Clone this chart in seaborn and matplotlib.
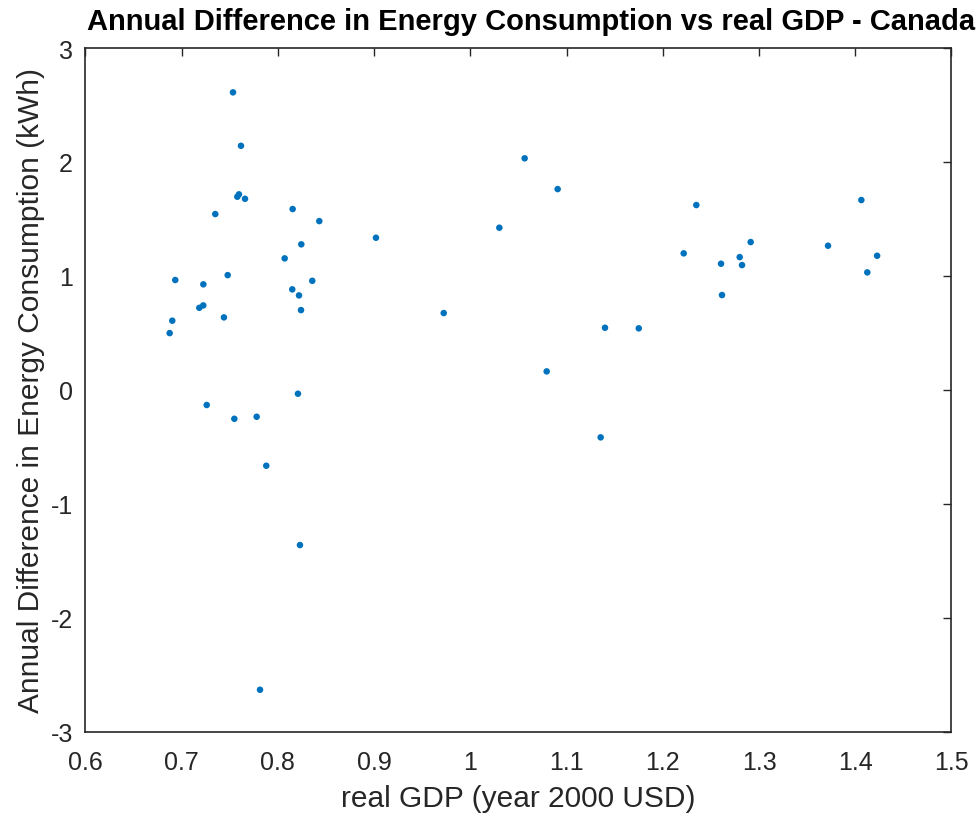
import matplotlib
matplotlib.use('Agg')
import matplotlib.pyplot as plt
import pandas as pd
import seaborn as sns

# real GDP (year 2000 USD)
gdp = [0.7533, 0.7616, 0.7595, 0.7578, 0.7658, 0.7349, 0.8153, 0.8430,
       0.9019, 0.8243, 0.8070, 0.6933, 0.7225, 0.7478, 0.8357, 0.8149,
       0.8219, 0.8240, 0.7183, 0.7224, 0.7439, 0.6902, 0.6875, 0.8208,
       0.7260, 0.7547, 0.7779, 0.7879, 0.8229, 0.7814, 1.0564, 1.0907,
       1.0301, 0.9723, 1.1399, 1.1750, 1.0793, 1.1354, 1.2348, 1.2217,
       1.2913, 1.2799, 1.2605, 1.2823, 1.2615, 1.4063, 1.3717, 1.4227,
       1.4125]
# annual difference in energy consumption (kWh)
energy_diff = [2.611, 2.142, 1.716, 1.695, 1.677, 1.543, 1.587, 1.481,
               1.335, 1.277, 1.154, 0.964, 0.926, 1.007, 0.957, 0.882,
               0.829, 0.700, 0.720, 0.741, 0.636, 0.607, 0.498, -0.034,
               -0.133, -0.254, -0.236, -0.666, -1.362, -2.632, 2.032, 1.762,
               1.423, 0.674, 0.545, 0.540, 0.162, -0.417, 1.622, 1.198,
               1.297, 1.165, 1.107, 1.095, 0.832, 1.666, 1.265, 1.177,
               1.031]

x_ticks = [0.6, 0.7, 0.8, 0.9, 1, 1.1, 1.2, 1.3, 1.4, 1.5]
x_ticklabels = ["0.6", "0.7", "0.8", "0.9", "1", "1.1", "1.2", "1.3", "1.4", "1.5"]
y_ticks = [-3, -2, -1, 0, 1, 2, 3]

df = pd.DataFrame({"gdp": gdp, "diff": energy_diff})

sns.set_style("white")
plt.rcParams['font.family'] = ['Liberation Sans', 'DejaVu Sans']
plt.rcParams['axes.unicode_minus'] = False
grey = "#262626"

fig = plt.figure(figsize=(9.78, 8.2), dpi=100)
ax = fig.add_axes([0.0874, 0.1065, 0.8855, 0.8337])
sns.scatterplot(x="gdp", y="diff", data=df, ax=ax, color="#0072BD",
                s=22, edgecolor="none", linewidth=0)

ax.set_xlim(0.6, 1.5)
ax.set_ylim(-3, 3)
ax.set_xticks(x_ticks)
ax.set_xticklabels(x_ticklabels)
ax.set_yticks(y_ticks)
ax.tick_params(direction="in", length=6, width=1, colors=grey,
               labelsize=18, top=True, right=True)
ax.tick_params(axis="x", pad=13)
ax.tick_params(axis="y", pad=9)
for sp in ax.spines.values():
    sp.set_color(grey)
    sp.set_linewidth(1.2)
    sp.set_visible(True)

ax.set_xlabel("real GDP (year 2000 USD)", fontsize=21.5, color=grey)
ax.xaxis.set_label_coords(0.5, -0.076)
ax.set_ylabel("Annual Difference in Energy Consumption (kWh)", fontsize=21.5,
              color=grey)
ax.yaxis.set_label_coords(-0.047, 0.5)
ax.set_title("Annual Difference in Energy Consumption vs real GDP - Canada",
             fontsize=21, fontweight="bold", color="black", pad=14, x=0.515)

fig.savefig("out.png", dpi=100)
